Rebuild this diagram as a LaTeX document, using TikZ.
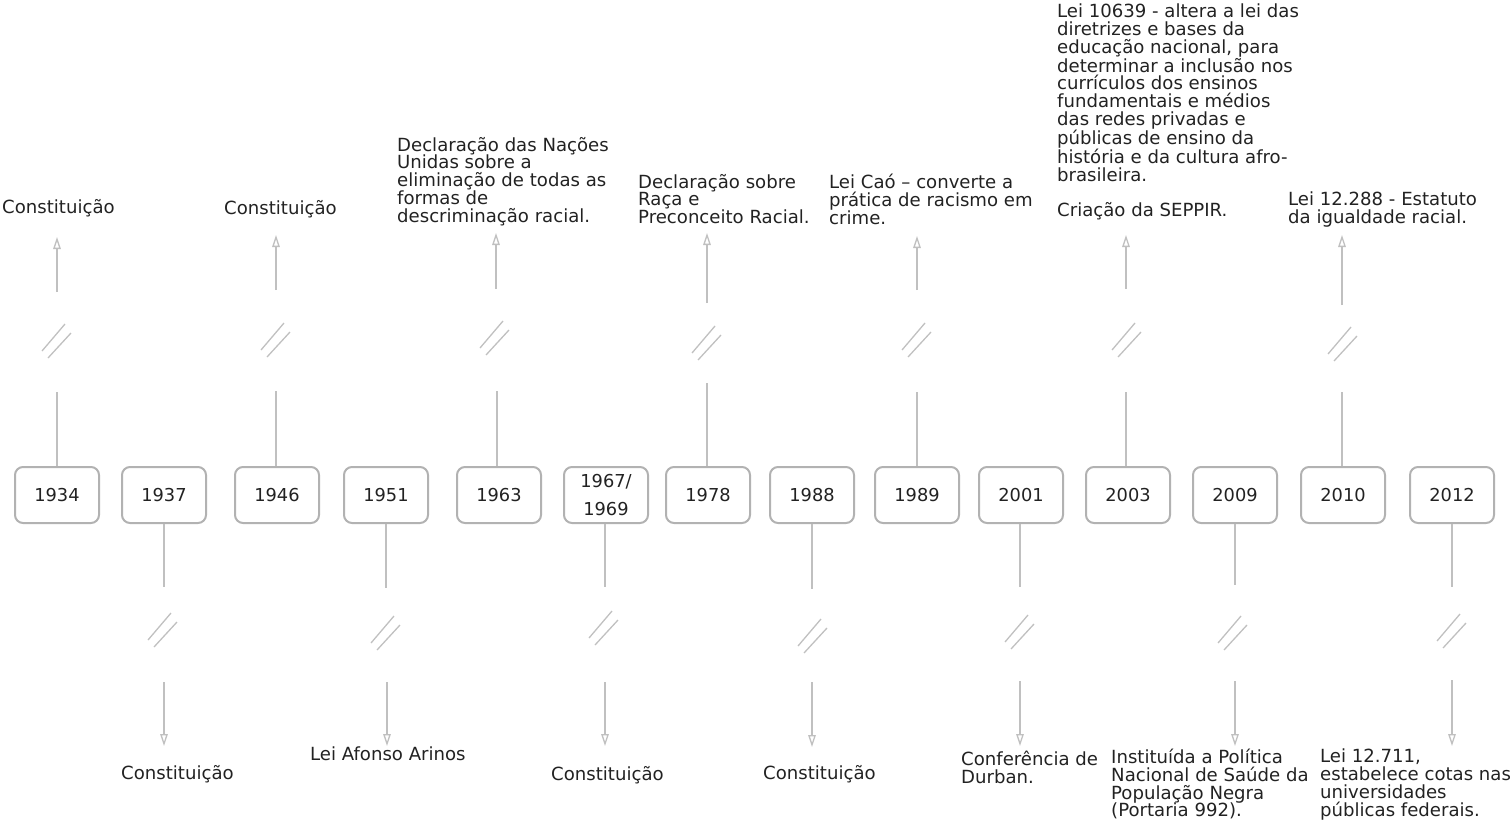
\documentclass[tikz,border=0pt]{standalone}
\usepackage{fontspec}
\setmainfont{DejaVu Sans}
\usetikzlibrary{arrows.meta}
\definecolor{boxgray}{RGB}{178,178,178}
\definecolor{linegray}{RGB}{192,192,192}
\definecolor{textgray}{RGB}{34,34,34}

\begin{document}
\begin{tikzpicture}[x=1pt,y=-1pt]

\tikzset{yearbox/.style={draw=boxgray,line width=2pt,rounded corners=8pt,minimum width=84pt,minimum height=56pt,inner sep=0pt,align=center,text=textgray,font=\fontsize{17.8}{28}\selectfont},}
\tikzset{event/.style={anchor=north west,inner sep=0pt,align=left,text=textgray,font=\fontsize{18.1}{17.7}\selectfont},}
\tikzset{stem/.style={draw=linegray,line width=1.3pt},}
\tikzset{tip/.style={stem,-{Triangle[open,length=12pt,width=7.5pt]}},}
\tikzset{gapline/.style={draw=linegray,line width=1.3pt},}

\useasboundingbox (0,0) rectangle (1510,822);

%ANOS
\draw (57,495) node [yearbox] (y1934) {1934};
\draw (164,495) node [yearbox] (y1937) {1937};
\draw (277,495) node [yearbox] (y1946) {1946};
\draw (386,495) node [yearbox] (y1951) {1951};
\draw (499,495) node [yearbox] (y1963) {1963};
\draw (606,495) node [yearbox] (y1967) {1967/\\1969};
\draw (708,495) node [yearbox] (y1978) {1978};
\draw (812,495) node [yearbox] (y1988) {1988};
\draw (917,495) node [yearbox] (y1989) {1989};
\draw (1021,495) node [yearbox] (y2001) {2001};
\draw (1128,495) node [yearbox] (y2003) {2003};
\draw (1235,495) node [yearbox] (y2009) {2009};
\draw (1343,495) node [yearbox] (y2010) {2010};
\draw (1452,495) node [yearbox] (y2012) {2012};

%PONTOS DAS LIGACOES (acima)
\coordinate (a1934) at (57,392);  \coordinate (m1934) at (57,341);  \coordinate (b1934) at (57,292);  \coordinate (t1934) at (57,237);
\coordinate (a1946) at (276,391); \coordinate (m1946) at (276,340); \coordinate (b1946) at (276,290); \coordinate (t1946) at (276,235);
\coordinate (a1963) at (497,391); \coordinate (m1963) at (495,338); \coordinate (b1963) at (496,289); \coordinate (t1963) at (496,233);
\coordinate (a1978) at (707,383); \coordinate (m1978) at (707,343); \coordinate (b1978) at (707,303); \coordinate (t1978) at (707,233);
\coordinate (a1989) at (917,392); \coordinate (m1989) at (917,340); \coordinate (b1989) at (917,290); \coordinate (t1989) at (917,236);
\coordinate (a2003) at (1126,392); \coordinate (m2003) at (1127,340); \coordinate (b2003) at (1126,289); \coordinate (t2003) at (1126,235);
\coordinate (a2010) at (1342,392); \coordinate (m2010) at (1343,344); \coordinate (b2010) at (1342,305); \coordinate (t2010) at (1342,235);

%PONTOS DAS LIGACOES (abaixo)
\coordinate (a1937) at (164,587); \coordinate (m1937) at (163,630); \coordinate (b1937) at (164,682); \coordinate (t1937) at (164,746);
\coordinate (a1951) at (386,588); \coordinate (m1951) at (386,633); \coordinate (b1951) at (387,682); \coordinate (t1951) at (387,746);
\coordinate (a1967) at (605,587); \coordinate (m1967) at (604,628); \coordinate (b1967) at (605,682); \coordinate (t1967) at (605,746);
\coordinate (a1988) at (812,589); \coordinate (m1988) at (813,636); \coordinate (b1988) at (812,682); \coordinate (t1988) at (812,747);
\coordinate (a2001) at (1020,587); \coordinate (m2001) at (1020,632); \coordinate (b2001) at (1020,681); \coordinate (t2001) at (1020,746);
\coordinate (a2009) at (1235,585); \coordinate (m2009) at (1233,633); \coordinate (b2009) at (1235,681); \coordinate (t2009) at (1235,746);
\coordinate (a2012) at (1452,587); \coordinate (m2012) at (1452,631); \coordinate (b2012) at (1452,680); \coordinate (t2012) at (1452,746);

%EVENTOS
\draw (2,199) node [event] (e1934) {Constituição};
\draw (224,200) node [event] (e1946) {Constituição};
\draw (397,137) node [event] (e1963) {Declaração das Nações\\Unidas sobre a\\eliminação de todas as\\formas de\\descriminação racial.};
\draw (638,174) node [event] (e1978) {Declaração sobre\\Raça e\\Preconceito Racial.};
\draw (829,174) node [event] (e1989) {Lei Caó – converte a\\prática de racismo em\\crime.};
\draw (1057,4) node [event] (e2003) {Lei 10639 - altera a lei das\\diretrizes e bases da\\educação nacional, para\\determinar a inclusão nos\\currículos dos ensinos\\fundamentais e médios\\das redes privadas e\\públicas de ensino da\\história e da cultura afro-\\brasileira.\\[17.7pt]Criação da SEPPIR.};
\draw (1288,192) node [event] (e2010) {Lei 12.288 - Estatuto\\da igualdade racial.};

\draw (121,765) node [event] (e1937) {Constituição};
\draw (310,747) node [event] (e1951) {Lei Afonso Arinos};
\draw (551,766) node [event] (e1967) {Constituição};
\draw (763,765) node [event] (e1988) {Constituição};
\draw (961,751) node [event] (e2001) {Conferência de\\Durban.};
\draw (1111,749) node [event] (e2009) {Instituída a Política\\Nacional de Saúde da\\População Negra\\(Portaria 992).};
\draw (1320,749) node [event] (e2012) {Lei 12.711,\\estabelece cotas nas\\universidades\\públicas federais.};

%LIGACOES
\foreach \n in {1934,1946,1963,1978,1989,2003,2010}{
  \draw[stem] (y\n.north -| a\n) -- (a\n);
  \draw[tip] (b\n) -- (t\n);
  \draw[gapline,shift={(m\n)}] (-15,10) -- (8,-17) (-9,17) -- (14,-8);
}
\foreach \n in {1937,1951,1967,1988,2001,2009,2012}{
  \draw[stem] (y\n.south -| a\n) -- (a\n);
  \draw[tip] (b\n) -- (t\n);
  \draw[gapline,shift={(m\n)}] (-15,10) -- (8,-17) (-9,17) -- (14,-8);
}

\end{tikzpicture}
\end{document}
